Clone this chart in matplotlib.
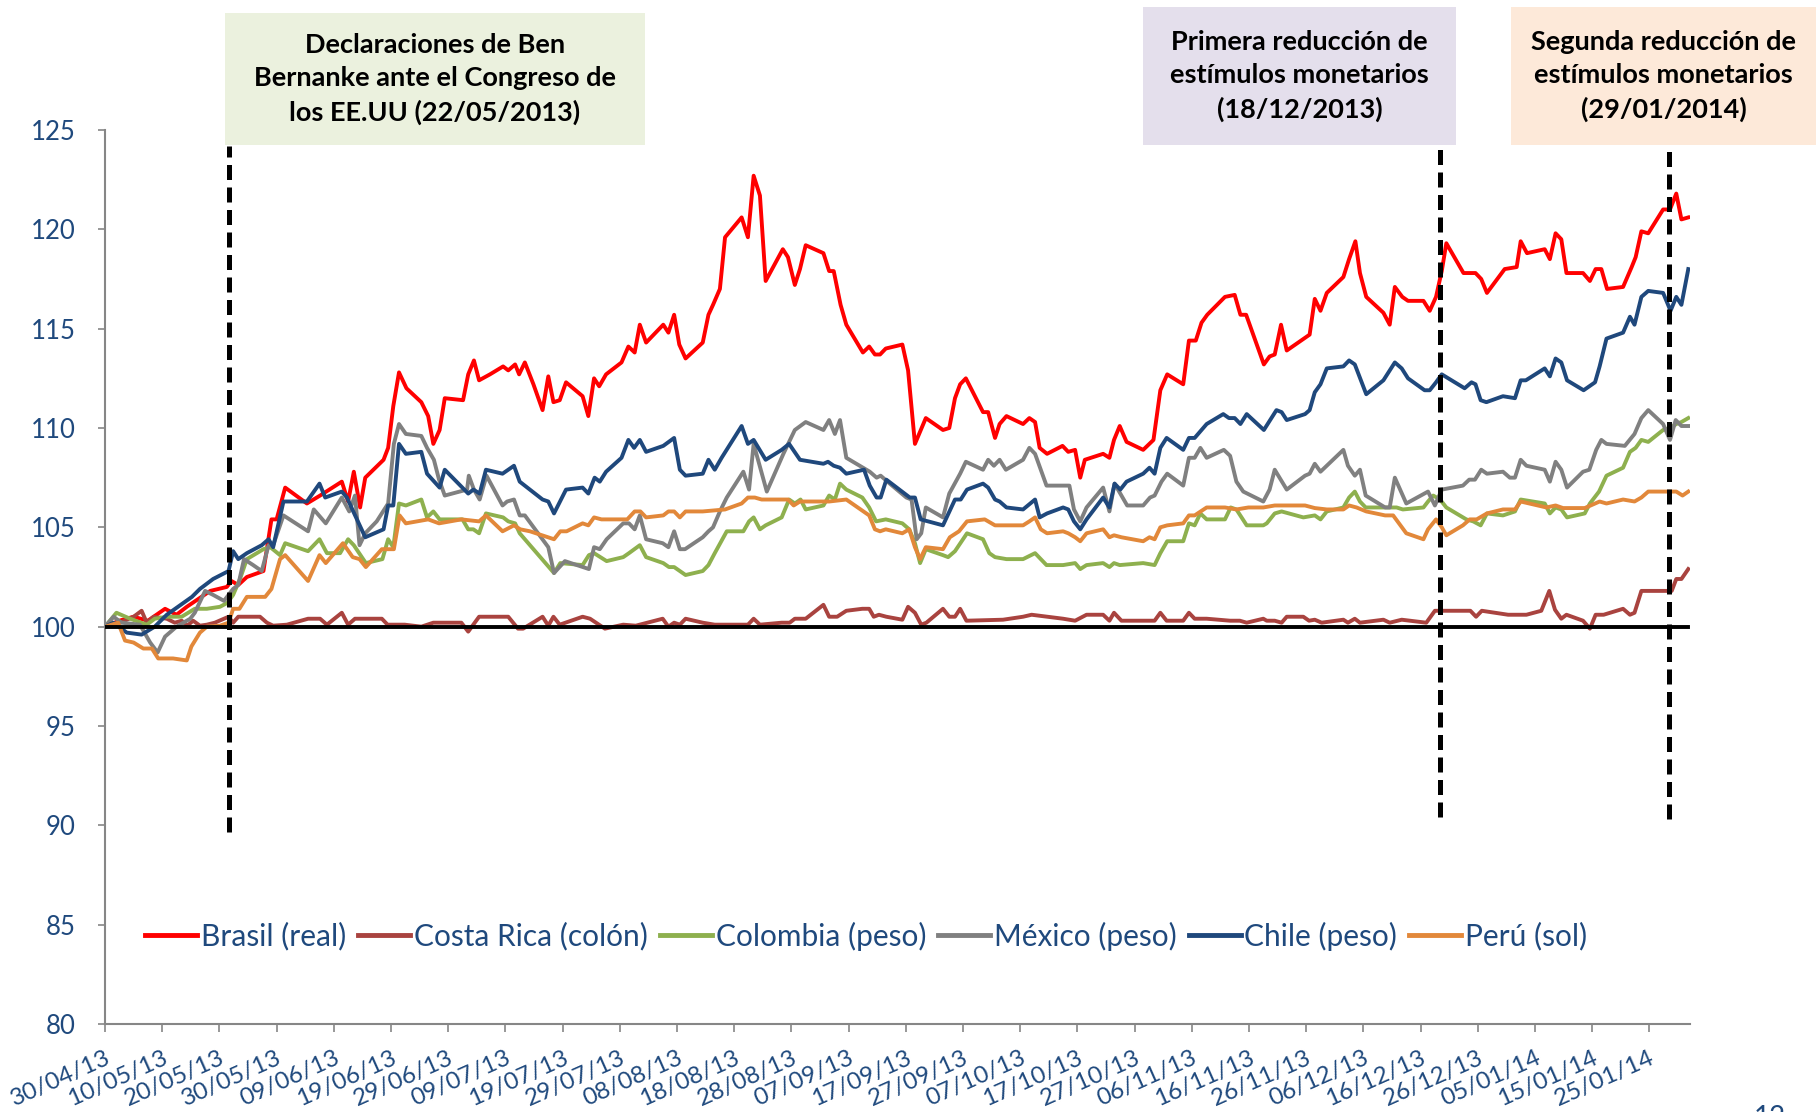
import matplotlib
matplotlib.use("Agg")
import matplotlib.pyplot as plt
import matplotlib.dates as mdates
from matplotlib.patches import Rectangle
import pandas as pd

plt.rcParams['font.family'] = ['Lato', 'DejaVu Sans']

start = pd.Timestamp('2013-04-30')

# Index values (30/04/2013 = 100); days counted from 30/04/2013
brasil_days = [0, 2.5, 5, 7.5, 10.5, 12.5, 14.3, 18.4, 21.3, 22.1, 23.3, 24.8, 27.7, 29.1, 30.0, 31.5, 35.3, 37.6, 41.4, 42.5, 43.5, 44.6, 45.5, 48.7, 49.5, 50.4, 51.4, 52.7, 55.3, 56.5, 57.4, 58.5, 59.4, 62.6, 63.5, 64.5, 65.4, 67.3, 69.6, 70.5, 71.7, 72.4, 73.4, 74.9, 76.5, 77.5, 78.4, 79.5, 80.6, 83.5, 84.5, 85.5, 86.4, 87.6, 90.3, 91.5, 92.6, 93.5, 94.6, 97.6, 98.5, 99.5, 100.4, 101.5, 104.5, 105.5, 106.3, 107.5, 108.4, 111.3, 112.4, 113.4, 114.5, 115.5, 118.5, 119.4, 120.6, 121.5, 122.5, 125.6, 126.6, 127.4, 128.6, 129.6, 132.5, 133.6, 134.6, 135.5, 136.5, 139.4, 140.4, 141.6, 143.5, 146.5, 147.6, 148.6, 149.5, 150.5, 153.5, 154.4, 155.6, 156.4, 157.6, 160.5, 161.6, 162.6, 163.4, 164.7, 167.4, 168.4, 169.6, 170.5, 171.3, 174.5, 175.6, 176.4, 177.4, 178.6, 181.5, 183.3, 184.5, 185.7, 188.5, 189.5, 190.7, 191.7, 192.7, 195.8, 197.5, 198.5, 199.5, 202.6, 203.6, 204.5, 205.6, 206.6, 210.6, 211.5, 212.5, 213.6, 216.5, 217.5, 218.6, 219.4, 220.5, 223.5, 224.6, 225.5, 226.8, 227.8, 230.5, 231.6, 232.7, 233.7, 234.5, 237.5, 239.6, 240.6, 241.6, 244.7, 246.8, 247.5, 248.6, 251.7, 252.6, 253.6, 254.6, 255.5, 258.4, 259.6, 260.6, 261.6, 262.6, 265.4, 266.9, 267.6, 268.6, 269.8, 272.4, 273.6, 274.7, 275.6, 276.8]
brasil_vals = [100, 100.3, 100.5, 100.3, 100.9, 100.6, 101.0, 101.8, 102.0, 102.3, 102.1, 102.5, 102.8, 105.4, 105.4, 107.0, 106.2, 106.6, 107.3, 106.3, 107.8, 106.0, 107.5, 108.4, 109.0, 111.1, 112.8, 112.0, 111.3, 110.6, 109.2, 109.9, 111.5, 111.4, 112.7, 113.4, 112.4, 112.7, 113.1, 112.9, 113.2, 112.7, 113.3, 112.2, 110.9, 112.6, 111.3, 111.4, 112.3, 111.6, 110.6, 112.5, 112.1, 112.7, 113.3, 114.1, 113.8, 115.2, 114.3, 115.2, 114.8, 115.7, 114.2, 113.5, 114.3, 115.7, 116.2, 117.0, 119.6, 120.6, 119.6, 122.7, 121.7, 117.4, 119.0, 118.6, 117.2, 118.0, 119.2, 118.8, 117.9, 117.9, 116.2, 115.2, 113.8, 114.1, 113.7, 113.7, 114.0, 114.2, 112.9, 109.2, 110.5, 109.9, 110.0, 111.5, 112.2, 112.5, 110.8, 110.8, 109.5, 110.2, 110.6, 110.2, 110.5, 110.3, 109.0, 108.7, 109.1, 108.8, 108.9, 107.5, 108.4, 108.7, 108.5, 109.4, 110.1, 109.3, 108.9, 109.4, 111.9, 112.7, 112.2, 114.4, 114.4, 115.3, 115.7, 116.6, 116.7, 115.7, 115.7, 113.2, 113.6, 113.7, 115.2, 113.9, 114.7, 116.5, 115.9, 116.8, 117.6, 118.5, 119.4, 117.8, 116.6, 115.8, 115.2, 117.1, 116.6, 116.4, 116.4, 115.9, 116.6, 117.9, 119.3, 117.8, 117.8, 117.5, 116.8, 118.0, 118.1, 119.4, 118.8, 119.0, 118.5, 119.8, 119.5, 117.8, 117.8, 117.4, 118.0, 118.0, 117.0, 117.1, 118.1, 118.6, 119.9, 119.8, 121.0, 121.0, 121.8, 120.5, 120.6]

costarica_days = [0, 2.6, 5.0, 6.4, 7.3, 8.5, 10.8, 12.2, 13.4, 14.4, 15.4, 16.6, 17.8, 19.2, 21.6, 22.4, 23.3, 24.8, 27.1, 28.3, 29.4, 31.8, 35.5, 37.6, 38.8, 41.4, 42.5, 43.7, 48.4, 49.4, 52.4, 55.3, 57.4, 62.3, 63.5, 65.4, 70.5, 72.2, 73.1, 76.5, 77.5, 78.4, 79.5, 83.5, 84.8, 87.4, 90.6, 92.8, 97.5, 98.5, 99.5, 100.5, 101.5, 104.5, 106.6, 108.7, 112.4, 113.4, 114.5, 118.3, 119.7, 120.6, 122.5, 125.6, 126.6, 128.0, 129.6, 132.4, 133.6, 134.4, 135.3, 136.6, 139.4, 140.4, 141.6, 142.7, 143.6, 146.5, 147.6, 148.6, 149.5, 150.6, 157.0, 160.5, 162.0, 167.5, 169.6, 171.6, 174.5, 175.6, 176.4, 177.7, 183.5, 184.5, 185.6, 188.5, 189.5, 190.5, 192.6, 196.7, 198.4, 199.6, 202.5, 203.1, 204.5, 205.7, 206.6, 209.5, 210.5, 211.5, 212.7, 216.5, 217.3, 218.5, 219.4, 223.5, 224.6, 226.7, 231.0, 232.5, 238.7, 239.7, 240.7, 245.3, 248.5, 251.1, 252.5, 253.5, 254.6, 255.5, 258.4, 259.6, 260.6, 262.0, 265.4, 266.6, 267.4, 268.6, 273.9, 274.7, 275.6, 276.8]
costarica_vals = [100, 100.2, 100.5, 100.8, 100.2, 100.5, 100.4, 100.2, 100.3, 100.05, 100.3, 100.05, 100.1, 100.2, 100.5, 100.2, 100.5, 100.5, 100.5, 100.2, 100.05, 100.1, 100.4, 100.4, 100.1, 100.7, 100.1, 100.4, 100.4, 100.1, 100.1, 100.0, 100.2, 100.2, 99.75, 100.5, 100.5, 99.9, 99.9, 100.5, 100.05, 100.5, 100.1, 100.5, 100.4, 99.9, 100.1, 100.05, 100.4, 100.0, 100.2, 100.1, 100.4, 100.2, 100.1, 100.1, 100.1, 100.4, 100.1, 100.2, 100.2, 100.4, 100.4, 101.1, 100.5, 100.5, 100.8, 100.9, 100.9, 100.5, 100.6, 100.5, 100.35, 101.0, 100.7, 100.1, 100.2, 100.9, 100.5, 100.5, 100.9, 100.3, 100.35, 100.5, 100.6, 100.4, 100.3, 100.6, 100.6, 100.3, 100.7, 100.3, 100.3, 100.7, 100.3, 100.3, 100.7, 100.4, 100.4, 100.3, 100.3, 100.2, 100.4, 100.3, 100.3, 100.2, 100.5, 100.5, 100.3, 100.35, 100.2, 100.35, 100.2, 100.4, 100.2, 100.35, 100.2, 100.35, 100.2, 100.8, 100.8, 100.5, 100.8, 100.6, 100.6, 100.8, 101.8, 100.85, 100.4, 100.6, 100.3, 99.9, 100.6, 100.6, 100.9, 100.6, 100.7, 101.8, 101.8, 102.4, 102.4, 102.9]

colombia_days = [0, 2.0, 4.4, 7.3, 8.7, 10.8, 13.4, 15.7, 17.8, 20.1, 21.4, 22.4, 23.6, 24.8, 27.7, 28.9, 30.6, 31.5, 35.5, 37.5, 38.8, 41.1, 42.5, 43.5, 45.6, 48.5, 49.5, 50.4, 51.4, 52.6, 55.3, 56.3, 57.4, 58.5, 62.5, 63.5, 64.4, 65.4, 66.6, 69.6, 70.5, 71.7, 72.5, 78.5, 79.6, 83.5, 84.6, 85.5, 87.7, 90.6, 91.6, 93.5, 94.6, 97.6, 98.6, 99.5, 101.5, 104.5, 105.5, 106.6, 108.7, 111.6, 112.6, 113.4, 114.5, 115.5, 118.3, 119.6, 120.6, 121.6, 122.5, 125.6, 126.6, 127.6, 128.5, 129.6, 132.4, 133.6, 134.8, 136.5, 139.4, 140.6, 141.6, 142.5, 143.5, 146.5, 147.4, 148.6, 150.7, 153.5, 154.6, 155.6, 157.6, 160.5, 162.6, 164.6, 167.5, 169.6, 170.5, 171.6, 174.5, 175.6, 176.4, 177.4, 181.5, 183.5, 184.5, 185.7, 188.5, 189.5, 190.5, 191.5, 192.6, 195.8, 196.8, 197.8, 199.6, 202.5, 203.1, 204.5, 205.7, 209.5, 211.5, 212.5, 213.6, 216.5, 217.5, 218.5, 219.4, 220.4, 225.8, 226.9, 230.5, 231.3, 232.2, 233.4, 234.5, 238.0, 239.2, 240.5, 241.6, 244.4, 246.5, 247.5, 251.7, 252.6, 253.6, 254.6, 255.6, 258.7, 259.6, 261.2, 262.5, 265.4, 266.6, 267.6, 268.6, 269.8, 272.4, 273.6, 274.7, 275.6, 276.8]
colombia_vals = [100, 100.7, 100.4, 100.1, 100.4, 100.5, 100.5, 100.9, 100.9, 101.0, 101.2, 101.6, 102.4, 103.4, 103.9, 104.0, 103.6, 104.2, 103.8, 104.4, 103.7, 103.7, 104.4, 104.1, 103.2, 103.4, 104.4, 104.0, 106.2, 106.1, 106.4, 105.5, 105.8, 105.4, 105.4, 104.9, 104.9, 104.7, 105.7, 105.5, 105.3, 105.2, 104.7, 102.7, 103.2, 103.1, 103.6, 103.7, 103.3, 103.5, 103.7, 104.1, 103.5, 103.2, 103.0, 103.0, 102.6, 102.8, 103.1, 103.7, 104.8, 104.8, 105.3, 105.5, 104.9, 105.1, 105.5, 106.4, 106.2, 106.4, 105.9, 106.1, 106.6, 106.4, 107.2, 106.9, 106.5, 106.0, 105.3, 105.4, 105.2, 104.9, 104.2, 103.2, 103.9, 103.6, 103.5, 103.8, 104.7, 104.4, 103.7, 103.5, 103.4, 103.4, 103.7, 103.1, 103.1, 103.2, 102.9, 103.1, 103.2, 103.0, 103.2, 103.1, 103.2, 103.1, 103.7, 104.3, 104.3, 105.2, 105.1, 105.7, 105.4, 105.4, 106.0, 105.9, 105.1, 105.1, 105.2, 105.7, 105.8, 105.5, 105.6, 105.4, 105.8, 106.0, 106.5, 106.8, 106.3, 106.0, 106.0, 105.9, 106.0, 106.3, 106.6, 106.4, 106.0, 105.4, 105.3, 105.1, 105.7, 105.6, 105.8, 106.4, 106.2, 105.7, 106.0, 105.9, 105.5, 105.7, 106.2, 106.8, 107.6, 108.0, 108.8, 109.0, 109.4, 109.3, 109.9, 110.0, 110.2, 110.3, 110.5]

mexico_days = [0, 1.5, 2.9, 6.1, 7.9, 9.2, 10.5, 12.5, 14.9, 15.7, 17.5, 18.9, 20.8, 22.4, 23.3, 24.3, 25.9, 27.4, 28.6, 29.4, 31.2, 35.5, 36.5, 38.6, 41.4, 42.7, 43.7, 44.5, 45.5, 47.5, 49.5, 50.5, 51.4, 52.6, 55.3, 56.3, 57.5, 58.4, 59.4, 63.3, 63.6, 64.5, 65.5, 66.7, 69.5, 70.3, 71.5, 72.5, 73.4, 77.5, 78.5, 80.4, 84.6, 85.5, 86.5, 87.7, 90.6, 91.6, 92.6, 93.5, 94.6, 97.5, 98.5, 99.5, 100.5, 101.4, 104.5, 105.5, 106.3, 107.5, 108.7, 111.6, 112.6, 113.4, 115.7, 118.6, 120.6, 122.5, 125.6, 126.6, 127.6, 128.5, 129.6, 133.7, 134.9, 135.6, 137.2, 140.1, 141.0, 141.9, 142.7, 143.5, 146.5, 147.6, 149.5, 150.5, 153.5, 154.4, 155.4, 156.4, 157.5, 160.5, 161.6, 162.6, 164.6, 168.6, 169.4, 170.5, 171.6, 174.5, 175.6, 176.5, 178.7, 181.5, 182.7, 183.5, 184.7, 185.7, 188.5, 189.5, 190.5, 191.5, 192.6, 195.6, 196.7, 197.8, 199.0, 202.5, 203.6, 204.5, 206.6, 209.8, 210.6, 211.5, 212.5, 216.5, 217.3, 218.5, 219.4, 220.4, 223.8, 224.6, 225.5, 227.5, 231.3, 232.5, 233.7, 237.4, 238.5, 239.5, 240.6, 241.6, 244.4, 245.6, 246.5, 247.5, 248.5, 251.7, 252.6, 253.6, 254.6, 255.6, 258.4, 259.5, 260.7, 261.6, 262.5, 265.7, 267.4, 268.6, 269.8, 272.4, 273.6, 274.6, 275.6, 276.8]
mexico_vals = [100, 100.5, 100.2, 100.1, 99.2, 98.7, 99.5, 100.0, 100.4, 100.7, 101.8, 101.6, 101.3, 101.9, 102.1, 103.4, 103.1, 102.8, 104.1, 104.1, 105.6, 104.8, 105.9, 105.2, 106.5, 105.8, 106.6, 104.1, 104.7, 105.3, 106.2, 109.2, 110.2, 109.7, 109.6, 109.0, 108.4, 107.4, 106.6, 106.9, 107.6, 106.9, 106.4, 107.6, 106.1, 106.3, 106.4, 105.6, 105.6, 104.0, 102.7, 103.3, 102.9, 104.0, 103.9, 104.4, 105.2, 105.2, 104.9, 105.6, 104.4, 104.2, 104.0, 104.8, 103.9, 103.9, 104.5, 104.8, 105.0, 105.8, 106.5, 107.8, 106.9, 109.2, 106.8, 108.7, 109.9, 110.3, 109.9, 110.4, 109.7, 110.4, 108.5, 107.8, 107.5, 107.6, 107.2, 106.5, 106.4, 104.4, 104.7, 106.0, 105.5, 106.7, 107.7, 108.3, 107.9, 108.4, 108.1, 108.4, 107.9, 108.4, 109.0, 108.7, 107.1, 107.1, 105.9, 105.3, 106.0, 107.0, 105.8, 107.2, 106.1, 106.1, 106.5, 106.6, 107.3, 107.7, 107.1, 108.5, 108.5, 109.0, 108.5, 108.9, 108.6, 107.3, 106.8, 106.3, 106.9, 107.9, 106.9, 107.6, 107.7, 108.2, 107.8, 108.9, 108.1, 107.6, 107.9, 106.6, 106.0, 106.0, 107.5, 106.2, 106.8, 106.1, 106.9, 107.1, 107.4, 107.4, 107.9, 107.7, 107.8, 107.5, 107.5, 108.4, 108.1, 107.9, 107.3, 108.3, 107.9, 107.0, 107.8, 107.9, 108.9, 109.4, 109.2, 109.1, 109.7, 110.5, 110.9, 110.2, 109.4, 110.4, 110.1, 110.1]

chile_days = [0, 1.5, 3.8, 6.4, 8.7, 10.8, 15.2, 16.6, 18.9, 21.6, 22.4, 23.3, 24.8, 27.4, 28.6, 29.4, 31.2, 35.3, 37.5, 38.5, 41.4, 42.3, 43.4, 45.5, 48.7, 49.5, 50.4, 51.4, 52.6, 55.3, 56.3, 58.5, 59.4, 63.5, 64.4, 65.5, 66.6, 69.5, 71.5, 72.5, 76.5, 77.5, 78.5, 80.6, 83.5, 84.5, 85.6, 86.5, 87.6, 90.3, 91.5, 92.5, 93.5, 94.6, 97.6, 99.5, 100.5, 101.5, 104.5, 105.5, 106.6, 107.8, 111.3, 112.4, 113.4, 115.5, 118.3, 119.6, 121.5, 125.6, 126.4, 127.4, 128.5, 129.6, 132.7, 133.7, 134.9, 135.6, 136.6, 140.7, 141.6, 142.6, 146.5, 148.6, 149.6, 150.7, 153.5, 154.4, 155.6, 156.4, 157.6, 160.5, 162.6, 163.4, 164.7, 167.5, 168.4, 169.4, 170.5, 171.6, 174.5, 175.6, 176.5, 177.5, 178.6, 181.5, 182.6, 183.5, 184.5, 185.6, 188.5, 189.5, 190.5, 192.6, 195.5, 196.5, 197.5, 198.5, 199.6, 202.6, 204.8, 205.7, 206.6, 209.8, 210.6, 211.5, 212.5, 213.6, 216.5, 217.5, 218.5, 220.5, 223.5, 225.5, 226.7, 227.8, 230.7, 231.6, 232.7, 233.7, 237.7, 238.9, 239.6, 240.5, 241.5, 244.4, 246.5, 247.5, 248.4, 251.7, 252.6, 253.6, 254.6, 255.6, 258.5, 260.5, 261.3, 262.5, 265.4, 266.6, 267.4, 268.6, 269.8, 272.4, 273.7, 274.7, 275.6, 276.8]
chile_vals = [100, 100.2, 99.7, 99.6, 100.0, 100.6, 101.5, 101.9, 102.4, 102.8, 103.8, 103.4, 103.7, 104.1, 104.4, 104.0, 106.3, 106.3, 107.2, 106.5, 106.8, 106.5, 105.8, 104.5, 104.9, 106.1, 106.1, 109.2, 108.7, 108.8, 107.7, 107.0, 107.9, 106.7, 106.9, 106.7, 107.9, 107.7, 108.1, 107.3, 106.4, 106.3, 105.7, 106.9, 107.0, 106.7, 107.5, 107.3, 107.8, 108.5, 109.4, 109.0, 109.4, 108.8, 109.1, 109.5, 107.9, 107.6, 107.7, 108.4, 107.9, 108.5, 110.1, 109.2, 109.4, 108.4, 108.9, 109.2, 108.4, 108.2, 108.3, 108.1, 108.0, 107.7, 107.9, 107.1, 106.5, 106.5, 107.4, 106.5, 106.5, 105.4, 105.1, 106.4, 106.4, 106.9, 107.2, 107.0, 106.4, 106.3, 106.0, 105.9, 106.4, 105.5, 105.7, 106.0, 105.9, 105.3, 104.9, 105.4, 106.5, 106.0, 107.2, 106.9, 107.3, 107.7, 108.0, 107.7, 109.0, 109.5, 108.9, 109.5, 109.5, 110.2, 110.7, 110.5, 110.5, 110.2, 110.7, 109.9, 110.9, 110.8, 110.4, 110.7, 110.9, 111.8, 112.2, 113.0, 113.1, 113.4, 113.2, 111.7, 112.4, 113.3, 113.0, 112.5, 111.9, 111.9, 112.3, 112.7, 112.0, 112.3, 112.2, 111.4, 111.3, 111.6, 111.5, 112.4, 112.4, 113.0, 112.6, 113.5, 113.3, 112.4, 111.9, 112.3, 113.1, 114.5, 114.8, 115.6, 115.2, 116.6, 116.9, 116.8, 115.9, 116.6, 116.2, 118.0]

peru_days = [0, 2.3, 3.5, 5.0, 6.7, 8.2, 9.3, 11.9, 14.3, 15.1, 16.6, 17.8, 20.1, 21.6, 22.4, 23.5, 24.8, 28.0, 29.1, 30.6, 31.5, 35.5, 37.5, 38.6, 41.6, 43.3, 44.5, 45.6, 48.4, 50.5, 51.5, 52.6, 56.5, 58.4, 62.3, 65.4, 66.6, 69.5, 71.5, 72.6, 74.3, 78.5, 79.6, 80.7, 83.5, 84.5, 85.5, 86.8, 91.3, 92.6, 93.6, 94.6, 97.6, 98.5, 99.5, 100.5, 101.5, 104.5, 108.4, 111.3, 112.4, 113.6, 114.8, 119.4, 120.4, 121.5, 126.6, 129.6, 133.6, 134.6, 135.5, 136.5, 139.4, 140.6, 141.6, 142.5, 143.5, 146.5, 147.7, 149.3, 150.7, 153.8, 155.6, 160.5, 161.6, 162.6, 163.6, 164.7, 167.5, 168.4, 169.6, 170.5, 171.6, 174.5, 175.6, 176.4, 177.7, 181.5, 182.6, 183.5, 184.5, 185.7, 188.5, 189.5, 190.5, 192.6, 195.8, 197.8, 199.9, 202.5, 204.5, 209.8, 211.5, 213.6, 216.5, 217.5, 218.8, 220.5, 223.8, 225.2, 227.5, 230.5, 231.3, 232.7, 233.7, 234.5, 237.4, 238.6, 239.8, 241.6, 244.4, 246.5, 247.5, 252.0, 253.6, 254.9, 258.7, 261.3, 262.5, 265.4, 267.4, 268.6, 269.8, 273.3, 274.7, 275.8, 276.8]
peru_vals = [100, 100.2, 99.3, 99.2, 98.9, 98.9, 98.4, 98.4, 98.3, 99.0, 99.7, 100.0, 100.05, 100.2, 100.9, 100.9, 101.5, 101.5, 101.9, 103.4, 103.6, 102.3, 103.6, 103.2, 104.2, 103.5, 103.4, 103.0, 103.9, 103.9, 105.6, 105.2, 105.4, 105.2, 105.4, 105.3, 105.6, 104.8, 105.1, 104.9, 104.8, 104.4, 104.8, 104.8, 105.2, 105.1, 105.5, 105.4, 105.4, 105.8, 105.8, 105.5, 105.6, 105.8, 105.8, 105.5, 105.8, 105.8, 105.9, 106.2, 106.5, 106.5, 106.4, 106.4, 106.1, 106.3, 106.3, 106.4, 105.6, 104.9, 104.8, 104.9, 104.7, 104.9, 104.0, 103.4, 104.0, 103.9, 104.5, 104.8, 105.3, 105.4, 105.1, 105.1, 105.3, 105.5, 104.9, 104.7, 104.8, 104.7, 104.5, 104.3, 104.7, 104.9, 104.5, 104.6, 104.5, 104.3, 104.5, 104.4, 105.0, 105.1, 105.2, 105.6, 105.6, 106.0, 106.0, 105.9, 106.0, 106.0, 106.1, 106.1, 105.97, 105.9, 105.9, 106.1, 106.0, 105.8, 105.6, 105.6, 104.7, 104.4, 104.9, 105.4, 105.0, 104.6, 105.1, 105.4, 105.4, 105.7, 105.9, 105.9, 106.3, 106.0, 106.1, 105.97, 105.97, 106.3, 106.2, 106.4, 106.3, 106.5, 106.8, 106.8, 106.8, 106.6, 106.8]

series_names = ['Brasil (real)', 'Costa Rica (colón)', 'Colombia (peso)', 'México (peso)', 'Chile (peso)', 'Perú (sol)']
series_colors = ['#FF0000', '#A9433F', '#8EB04E', '#808080', '#1F487C', '#E2883A']
series_days = [brasil_days, costarica_days, colombia_days, mexico_days, chile_days, peru_days]
series_vals = [brasil_vals, costarica_vals, colombia_vals, mexico_vals, chile_vals, peru_vals]

# where the dashed event lines sit on the chart
event_marks = ['2013-05-21 18:00', '2013-12-19 10:00', '2014-01-28 12:00']
event_lows = [89.65, 90.4, 90.3]
event_texts = ['Declaraciones de Ben\nBernanke ante el Congreso de\nlos EE.UU (22/05/2013)',
               'Primera reducción de\nestímulos monetarios\n(18/12/2013)',
               'Segunda reducción de\nestímulos monetarios\n(29/01/2014)']
event_colors = ['#EBF1DE', '#E4DFEC', '#FDE9D9']
# box extents in figure pixels (left, right, top)
event_boxes = [(225, 645, 13), (1143, 1456, 7), (1511, 1816, 7)]

tick_dates = pd.date_range('2013-04-30', periods=28, freq='10D')

W, H = 1816, 1112
fig = plt.figure(figsize=(W / 100, H / 100), dpi=100)
ax = fig.add_axes([105 / W, 1 - 1024 / H, (1690 - 105) / W, (1024 - 130) / H])

label_color = '#1F497D'
for name, color, d, v in zip(series_names, series_colors, series_days, series_vals):
    x = start + pd.to_timedelta(d, unit='D')
    ax.plot(x, v, color=color, lw=2.8, label=name)

last_day = start + pd.to_timedelta(max(brasil_days), unit='D')
ax.plot([start, last_day], [100, 100], color='black', lw=2.8, zorder=5)

for dt, low in zip(event_marks, event_lows):
    ax.plot([pd.Timestamp(dt)] * 2, [low, 124.2], color='black', lw=3.6,
            linestyle=(0, (3.0, 1.5)), zorder=6, clip_on=False)

ax.set_xlim(start, start + pd.Timedelta(days=277.1))
ax.set_ylim(80, 125)
ax.set_yticks(range(80, 126, 5))
ax.set_xticks(tick_dates)
ax.xaxis.set_major_formatter(mdates.DateFormatter('%d/%m/%y'))
for s in ['top', 'right']:
    ax.spines[s].set_visible(False)
for s in ['left', 'bottom']:
    ax.spines[s].set_color('#868686')
    ax.spines[s].set_linewidth(1.5)
ax.tick_params(axis='y', direction='out', length=5, width=1.2, color='#868686',
               labelsize=18.5, labelcolor=label_color, pad=16)
ax.tick_params(axis='x', direction='out', length=6, width=1.2, color='#868686',
               labelsize=17.5, labelcolor=label_color, pad=11)
for lab in ax.get_xticklabels():
    lab.set_rotation(24)
    lab.set_ha('right')
    lab.set_va('top')
    lab.set_rotation_mode('anchor')

leg = ax.legend(loc='center left', bbox_to_anchor=(145 / W, 1 - 936 / H),
                bbox_transform=fig.transFigure, ncol=6, frameon=False,
                fontsize=21.5, handlelength=1.75, handletextpad=0.12,
                columnspacing=0.4, borderpad=0, borderaxespad=0)
for t in leg.get_texts():
    t.set_color(label_color)
for h in leg.get_lines():
    h.set_linewidth(3.5)

for (left, right, top), txt, col in zip(event_boxes, event_texts, event_colors):
    bottom = 145
    fig.add_artist(Rectangle((left / W, 1 - bottom / H), (right - left) / W, (bottom - top) / H,
                             transform=fig.transFigure, facecolor=col, edgecolor='none'))
    fig.text((left + right) / 2 / W, 1 - (top + bottom) / 2 / H, txt, ha='center', va='center',
             fontsize=19.5, fontweight='bold', color='black', linespacing=1.47)

fig.text(1770 / W, 1 - 1105 / H, '12', ha='center', va='top', fontsize=20, color=label_color)

fig.savefig('out.png', dpi=100)
